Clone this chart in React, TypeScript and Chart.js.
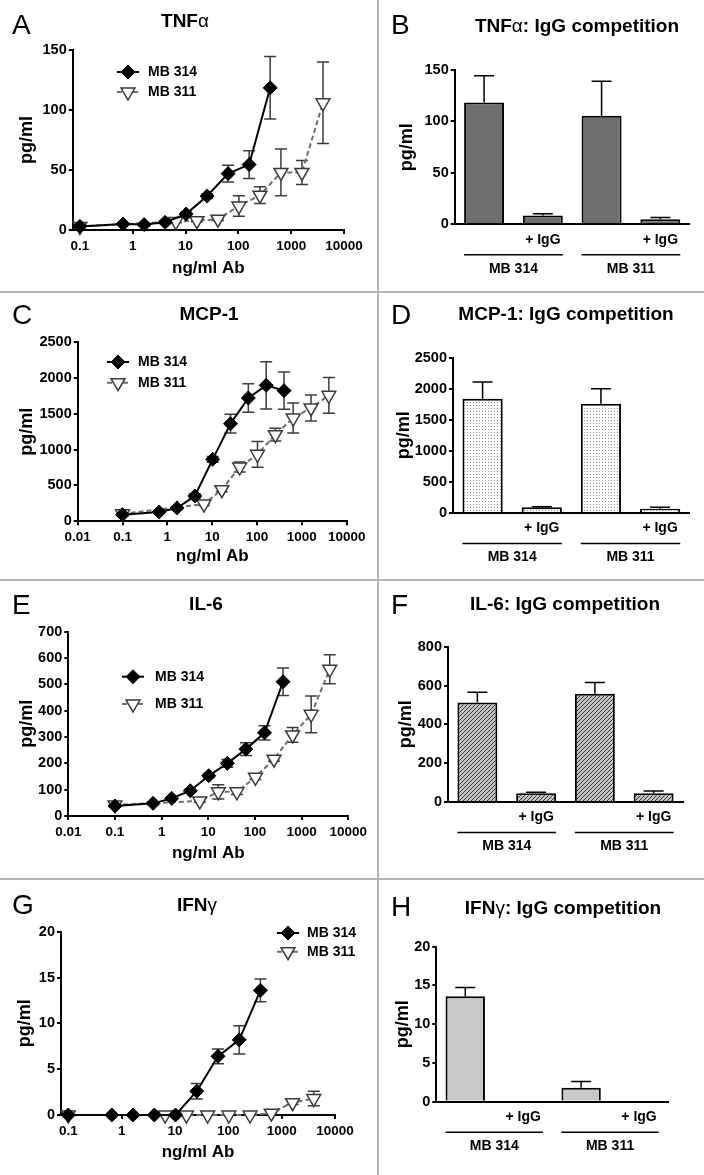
import React, { useEffect, useRef } from "react";
import { Chart, registerables } from "chart.js";

Chart.register(...registerables);

const FONT = '"Liberation Sans", Arial, Helvetica, sans-serif';

// ---------------- data ----------------
const seriesNames = ["MB 314", "MB 311"];
const doseMB314 = [0.1, 0.655, 1.64, 4.1, 10.24, 25.6, 64, 160, 400];
const doseMB311 = [0.1, 6.55, 16.4, 41, 102.4, 256, 640, 1600, 4000];

const tnfMB314 = [3, 5, 4.5, 6.4, 13.3, 28.3, 47, 54.5, 118.5];
const tnfMB314Err = [1, 1, 1, 1, 1.5, 2, 7, 11.5, 26];
const tnfMB311 = [3, 7, 7.8, 9, 20, 29, 48, 48, 106];
const tnfMB311Err = [1, 1, 1, 1, 8.5, 7, 19.5, 10, 34];

const mcpMB314 = [93, 130, 186, 353, 864, 1361, 1719, 1896, 1822];
const mcpMB314Err = [20, 20, 20, 30, 40, 130, 200, 330, 260];
const mcpMB311 = [105, 240, 441, 757, 934, 1208, 1440, 1580, 1756];
const mcpMB311Err = [20, 20, 30, 70, 180, 90, 210, 180, 250];

const il6MB314 = [38, 48, 67, 96, 153, 200, 254, 316, 510];
const il6MB314Err = [5, 5, 5, 5, 8, 15, 24, 27, 52];
const il6MB311 = [42, 57, 92, 92, 147, 216, 308, 386, 557];
const il6MB311Err = [5, 5, 27, 10, 8, 8, 28, 70, 55];

const ifnMB314 = [0, 0, 0, 0, 0, 2.6, 6.4, 8.2, 13.6];
const ifnMB314Err = [0, 0, 0, 0, 0, 0.85, 0.8, 1.55, 1.25];
const ifnMB311 = [0, 0, 0, 0, 0, 0, 0.2, 1.35, 1.8];
const ifnMB311Err = [0, 0, 0, 0, 0, 0, 0, 0.2, 0.8];

const barCategories = ["", "+ IgG", "", "+ IgG"];
const barGroups = ["MB 314", "MB 311"];
const tnfBars = [118.5, 8.5, 105.5, 4.8];
const tnfBarsErr = [26, 1.8, 33.5, 1.7];
const mcpBars = [1840, 91, 1760, 70];
const mcpBarsErr = [268, 10, 241, 21];
const il6Bars = [513, 45, 558, 45];
const il6BarsErr = [52, 5, 57, 12];
const ifnBars = [13.6, 0, 1.8, 0];
const ifnBarsErr = [1.15, 0, 0.8, 0];

const xTicksFrom01 = [0.1, 1, 10, 100, 1000, 10000];
const xTicksFrom001 = [0.01, 0.1, 1, 10, 100, 1000, 10000];
const yTicksTnf = [0, 50, 100, 150];
const yTicksMcp = [0, 500, 1000, 1500, 2000, 2500];
const yTicksIl6 = [0, 100, 200, 300, 400, 500, 600, 700];
const yTicksIl6Bar = [0, 200, 400, 600, 800];
const yTicksIfn = [0, 5, 10, 15, 20];

const yTitle = "pg/ml";
const xTitle = "ng/ml Ab";

// ---------------- layout / style ----------------
const Y_TITLE = 18;
const X_TITLE = 17;
const Y_TICK = 14.5;
const X_TICK = 13.5;
const LEG = 14;

const C_L0 = { x: 0, y: 0, w: 377, h: 291 };
const C_L1 = { x: 0, y: 293, w: 377, h: 286 };
const C_L2 = { x: 0, y: 581, w: 377, h: 297 };
const C_L3 = { x: 0, y: 880, w: 377, h: 295 };
const C_R0 = { x: 379, y: 0, w: 325, h: 291 };
const C_R1 = { x: 379, y: 293, w: 325, h: 286 };
const C_R2 = { x: 379, y: 581, w: 325, h: 297 };
const C_R3 = { x: 379, y: 880, w: 325, h: 295 };

const LINE_PANELS = [
  { id: "A", cell: C_L0, area: { l: 72.7, t: 50, r: 344, b: 230 }, yTitleX: 27, xTitleY: 268, xMin: 0.073, xTicks: xTicksFrom01, yTicks: yTicksTnf, v314: tnfMB314, e314: tnfMB314Err, v311: tnfMB311, e311: tnfMB311Err, legend: { x: 117, y: 72, gap: 20, len: 22, textX: 148 } },
  { id: "C", cell: C_L1, area: { l: 77.7, t: 342, r: 346.7, b: 521.3 }, yTitleX: 27, xTitleY: 556, xMin: 0.01, xTicks: xTicksFrom001, yTicks: yTicksMcp, v314: mcpMB314, e314: mcpMB314Err, v311: mcpMB311, e311: mcpMB311Err, legend: { x: 107, y: 362, gap: 20.7, len: 22, textX: 138 } },
  { id: "E", cell: C_L2, area: { l: 68.3, t: 631.7, r: 348.3, b: 816 }, yTitleX: 27, xTitleY: 853, xMin: 0.01, xTicks: xTicksFrom001, yTicks: yTicksIl6, v314: il6MB314, e314: il6MB314Err, v311: il6MB311, e311: il6MB311Err, legend: { x: 122, y: 676.7, gap: 27.3, len: 22, textX: 155 } },
  { id: "G", cell: C_L3, area: { l: 61, t: 931.7, r: 335, b: 1115 }, yTitleX: 25, xTitleY: 1152, xMin: 0.073, xTicks: xTicksFrom01, yTicks: yTicksIfn, v314: ifnMB314, e314: ifnMB314Err, v311: ifnMB311, e311: ifnMB311Err, legend: { x: 277, y: 933, gap: 18.7, len: 22, textX: 307 } },
];

const BAR_PANELS = [
  { id: "B", cell: C_R0, area: { l: 454.7, t: 70, r: 689.7, b: 224.3 }, yTitleX: 407, yTicks: yTicksTnf, values: tnfBars, errors: tnfBarsErr, fill: "solid:#6e6e6e" },
  { id: "D", cell: C_R1, area: { l: 453, t: 357.7, r: 689.7, b: 513 }, yTitleX: 404.5, yTicks: yTicksMcp, values: mcpBars, errors: mcpBarsErr, fill: "dots" },
  { id: "F", cell: C_R2, area: { l: 448, t: 646.7, r: 683, b: 802 }, yTitleX: 406, yTicks: yTicksIl6Bar, values: il6Bars, errors: il6BarsErr, fill: "hatch" },
  { id: "H", cell: C_R3, area: { l: 436.3, t: 946.7, r: 668, b: 1101.7 }, yTitleX: 403, yTicks: yTicksIfn, values: ifnBars, errors: ifnBarsErr, fill: "solid:#c8c8c8" },
];

const TITLES = [
  { x: 185, y: 20, main: "TNF", greek: "α", rest: "" },
  { x: 577, y: 25, main: "TNF", greek: "α", rest: ": IgG competition" },
  { x: 209, y: 313, main: "MCP-1", greek: "", rest: "" },
  { x: 566, y: 313, main: "MCP-1: IgG competition", greek: "", rest: "" },
  { x: 206, y: 602.5, main: "IL-6", greek: "", rest: "" },
  { x: 565, y: 603, main: "IL-6: IgG competition", greek: "", rest: "" },
  { x: 197, y: 904, main: "IFN", greek: "γ", rest: "" },
  { x: 563, y: 907, main: "IFN", greek: "γ", rest: ": IgG competition" },
];

const LETTERS = [
  { t: "A", x: 12, y: 25 }, { t: "B", x: 391, y: 25 },
  { t: "C", x: 12, y: 315 }, { t: "D", x: 391, y: 315 },
  { t: "E", x: 12, y: 605 }, { t: "F", x: 391, y: 605 },
  { t: "G", x: 12, y: 905 }, { t: "H", x: 391, y: 907 },
];

// ---------------- helpers ----------------
function fixedLayout(cell: any, area: any, yTitleX: number, bottomH: number) {
  const lh = Y_TITLE * 1.2;
  const padLeft = yTitleX - cell.x - lh / 2;
  return {
    padding: {
      left: padLeft,
      top: area.t - cell.y,
      right: cell.x + cell.w - area.r,
      bottom: cell.y + cell.h - area.b - bottomH,
    },
    yWidth: area.l - cell.x - padLeft,
  };
}

function drawMarker(ctx: any, ds: any, x: number, y: number) {
  const r = ds.pointRadius;
  ctx.beginPath();
  if (ds.pointStyle === "rectRot") {
    ctx.moveTo(x, y - r);
    ctx.lineTo(x + r, y);
    ctx.lineTo(x, y + r);
    ctx.lineTo(x - r, y);
  } else {
    const s = Math.sin(Math.PI / 3) * r;
    ctx.moveTo(x, y + r);
    ctx.lineTo(x - s, y - r / 2);
    ctx.lineTo(x + s, y - r / 2);
  }
  ctx.closePath();
  ctx.fillStyle = ds.pointBackgroundColor;
  ctx.fill();
  ctx.lineWidth = ds.pointBorderWidth;
  ctx.strokeStyle = ds.pointBorderColor;
  ctx.stroke();
}

function makeErrorPlugin(both: boolean, color: string, cap: number) {
  const draw = (chart: any) => {
    const ctx = chart.ctx;
    const ys = chart.scales.y;
    chart.data.datasets.forEach((ds: any, di: number) => {
      const errs = ds.errors;
      if (!errs) return;
      const meta = chart.getDatasetMeta(di);
      meta.data.forEach((el: any, i: number) => {
        const raw = ds.data[i];
        const val = typeof raw === "number" ? raw : raw.y;
        const e = errs[i];
        if (!e) return;
        const yTop = ys.getPixelForValue(val + e);
        const yBot = both ? ys.getPixelForValue(Math.max(val - e, ys.min)) : el.y;
        ctx.save();
        ctx.strokeStyle = color;
        ctx.lineWidth = 1.5;
        ctx.beginPath();
        ctx.moveTo(el.x, yTop);
        ctx.lineTo(el.x, yBot);
        ctx.moveTo(el.x - cap, yTop);
        ctx.lineTo(el.x + cap, yTop);
        if (both) {
          ctx.moveTo(el.x - cap, yBot);
          ctx.lineTo(el.x + cap, yBot);
        }
        ctx.stroke();
        ctx.restore();
      });
    });
  };
  return both ? { id: "errorBars", beforeDatasetsDraw: draw } : { id: "errorBars", afterDatasetsDraw: draw };
}

function makeLegendPlugin(lg: any) {
  return {
    id: "refLegend",
    afterDraw(chart: any) {
      const ctx = chart.ctx;
      chart.data.datasets.forEach((ds: any, i: number) => {
        const y = lg.y + i * lg.gap;
        ctx.save();
        ctx.strokeStyle = ds.borderColor;
        ctx.lineWidth = ds.borderWidth;
        ctx.setLineDash(ds.borderDash || []);
        ctx.beginPath();
        ctx.moveTo(lg.x, y);
        ctx.lineTo(lg.x + lg.len, y);
        ctx.stroke();
        ctx.setLineDash([]);
        drawMarker(ctx, ds, lg.x + lg.len / 2, y);
        ctx.fillStyle = "#000";
        ctx.font = `bold ${LEG}px ${FONT}`;
        ctx.textBaseline = "middle";
        ctx.textAlign = "left";
        ctx.fillText(ds.label, lg.textX, y);
        ctx.restore();
      });
    },
  };
}

const groupPlugin = {
  id: "groupLabels",
  afterDraw(chart: any) {
    const ctx = chart.ctx;
    const xs = chart.scales.x;
    const meta = chart.getDatasetMeta(0);
    barGroups.forEach((g, gi) => {
      const a = meta.data[gi * 2];
      const b = meta.data[gi * 2 + 1];
      const x0 = a.x - a.width / 2;
      const x1 = b.x + b.width / 2;
      const yl = xs.top + 30.5;
      ctx.save();
      ctx.strokeStyle = "#000";
      ctx.lineWidth = 1.5;
      ctx.beginPath();
      ctx.moveTo(x0, yl);
      ctx.lineTo(x1, yl);
      ctx.stroke();
      ctx.fillStyle = "#000";
      ctx.font = `bold ${LEG}px ${FONT}`;
      ctx.textAlign = "center";
      ctx.textBaseline = "middle";
      ctx.fillText(g, (x0 + x1) / 2, xs.top + 44.5);
      ctx.restore();
    });
  },
};

function makeFill(kind: string) {
  if (kind.startsWith("solid:")) return kind.slice(6);
  const c = document.createElement("canvas");
  const cx = c.getContext("2d")!;
  if (kind === "dots") {
    c.width = 3; c.height = 3;
    cx.fillStyle = "#ffffff"; cx.fillRect(0, 0, 3, 3);
    cx.fillStyle = "#8a8a8a"; cx.fillRect(1, 1, 1, 1);
  } else {
    c.width = 4; c.height = 4;
    cx.fillStyle = "#c4c4c4"; cx.fillRect(0, 0, 4, 4);
    cx.fillStyle = "#333333";
    for (let i = 0; i < 4; i++) cx.fillRect(i, 3 - i, 1, 1);
  }
  return cx.createPattern(c, "repeat");
}

function yScale(ticksArr: number[], width: number) {
  return {
    type: "linear",
    position: "left",
    min: ticksArr[0],
    max: ticksArr[ticksArr.length - 1],
    afterBuildTicks: (s: any) => { s.ticks = ticksArr.map((v) => ({ value: v })); },
    afterFit: (s: any) => { s.width = width; },
    border: { color: "#000", width: 2 },
    grid: { drawOnChartArea: false, color: "#000", lineWidth: 2, tickLength: 4 },
    ticks: { color: "#000", padding: 2, font: { family: FONT, size: Y_TICK, weight: "bold" }, callback: (v: any) => String(v) },
    title: { display: true, text: yTitle, color: "#000", padding: 0, font: { family: FONT, size: Y_TITLE, weight: "bold" } },
  };
}

function buildLine(p: any) {
  const xH = p.xTitleY + (X_TITLE * 1.2) / 2 - p.area.b;
  const { padding, yWidth } = fixedLayout(p.cell, p.area, p.yTitleX, xH);
  const datasets = [
    {
      label: seriesNames[0],
      data: doseMB314.map((x, i) => ({ x, y: p.v314[i] })),
      errors: p.e314,
      borderColor: "#000", borderWidth: 2,
      pointStyle: "rectRot", pointRadius: 7, pointHoverRadius: 7,
      pointBackgroundColor: "#000", pointBorderColor: "#000", pointBorderWidth: 1,
      clip: false,
    },
    {
      label: seriesNames[1],
      data: doseMB311.map((x, i) => ({ x, y: p.v311[i] })),
      errors: p.e311,
      borderColor: "#6e6e6e", borderWidth: 2, borderDash: [5, 3],
      pointStyle: "triangle", pointRotation: 180, pointRadius: 8, pointHoverRadius: 8,
      pointBackgroundColor: "#fff", pointBorderColor: "#3a3a3a", pointBorderWidth: 1.5,
      clip: false,
    },
  ];
  const lg = { ...p.legend, x: p.legend.x - p.cell.x, y: p.legend.y - p.cell.y, textX: p.legend.textX - p.cell.x };
  return {
    type: "line",
    data: { datasets },
    options: {
      responsive: false, animation: false, devicePixelRatio: 1, events: [],
      layout: { padding },
      plugins: { legend: { display: false }, tooltip: { enabled: false }, title: { display: false } },
      scales: {
        x: {
          type: "logarithmic", position: "bottom",
          min: p.xMin, max: p.xTicks[p.xTicks.length - 1],
          afterBuildTicks: (s: any) => { s.ticks = p.xTicks.map((v: number) => ({ value: v })); },
          afterFit: (s: any) => { s.height = xH; },
          border: { color: "#000", width: 2 },
          grid: { drawOnChartArea: false, color: "#000", lineWidth: 2, tickLength: 4 },
          ticks: { color: "#000", padding: 4, maxRotation: 0, autoSkip: false, font: { family: FONT, size: X_TICK, weight: "bold" }, callback: (v: any) => String(v) },
          title: { display: true, text: xTitle, color: "#000", padding: 0, font: { family: FONT, size: X_TITLE, weight: "bold" } },
        },
        y: yScale(p.yTicks, yWidth),
      },
    },
    plugins: [makeErrorPlugin(true, "#3c3c3c", 6), makeLegendPlugin(lg)],
  };
}

function buildBar(p: any) {
  const xH = 50;
  const { padding, yWidth } = fixedLayout(p.cell, p.area, p.yTitleX, xH);
  return {
    type: "bar",
    data: {
      labels: barCategories,
      datasets: [
        {
          data: p.values,
          errors: p.errors,
          backgroundColor: makeFill(p.fill),
          borderColor: "#000",
          borderWidth: 2,
          categoryPercentage: 1,
          barPercentage: 0.68,
        },
      ],
    },
    options: {
      responsive: false, animation: false, devicePixelRatio: 1, events: [],
      layout: { padding },
      plugins: { legend: { display: false }, tooltip: { enabled: false }, title: { display: false } },
      scales: {
        x: {
          type: "category", position: "bottom",
          afterFit: (s: any) => { s.height = xH; },
          border: { color: "#000", width: 2 },
          grid: { display: false, drawTicks: false },
          ticks: { color: "#000", padding: 7, maxRotation: 0, autoSkip: false, font: { family: FONT, size: LEG, weight: "bold" } },
        },
        y: yScale(p.yTicks, yWidth),
      },
    },
    plugins: [makeErrorPlugin(false, "#000", 10), groupPlugin],
  };
}

function Panel({ cell, build }: { cell: any; build: () => any }) {
  const ref = useRef<HTMLCanvasElement>(null);
  useEffect(() => {
    const chart = new Chart(ref.current as HTMLCanvasElement, build() as any);
    return () => chart.destroy();
  }, []);
  return (
    <canvas
      ref={ref}
      width={cell.w}
      height={cell.h}
      style={{ position: "absolute", left: cell.x, top: cell.y, width: cell.w, height: cell.h }}
    />
  );
}

export default function App() {
  const divider = "#b4b4b4";
  return (
    <div style={{ position: "absolute", left: 0, top: 0, width: 704, height: 1175, background: "#fff", overflow: "hidden", fontFamily: FONT }}>
      {LINE_PANELS.map((p) => <Panel key={p.id} cell={p.cell} build={() => buildLine(p)} />)}
      {BAR_PANELS.map((p) => <Panel key={p.id} cell={p.cell} build={() => buildBar(p)} />)}
      {TITLES.map((t, i) => (
        <div key={"t" + i} style={{ position: "absolute", left: t.x, top: t.y, transform: "translate(-50%, -50%)", fontSize: 19, fontWeight: "bold", lineHeight: 1, whiteSpace: "nowrap", color: "#000" }}>
          {t.main}
          {t.greek ? <span style={{ fontWeight: "normal" }}>{t.greek}</span> : null}
          {t.rest}
        </div>
      ))}
      {LETTERS.map((l) => (
        <div key={l.t} style={{ position: "absolute", left: l.x, top: l.y, transform: "translateY(-50%)", fontSize: 28, lineHeight: 1, color: "#000" }}>
          {l.t}
        </div>
      ))}
      <div style={{ position: "absolute", left: 377, top: 0, width: 2, height: 1175, background: divider }} />
      <div style={{ position: "absolute", left: 0, top: 291, width: 704, height: 2, background: divider }} />
      <div style={{ position: "absolute", left: 0, top: 579, width: 704, height: 2, background: divider }} />
      <div style={{ position: "absolute", left: 0, top: 878, width: 704, height: 2, background: divider }} />
    </div>
  );
}
